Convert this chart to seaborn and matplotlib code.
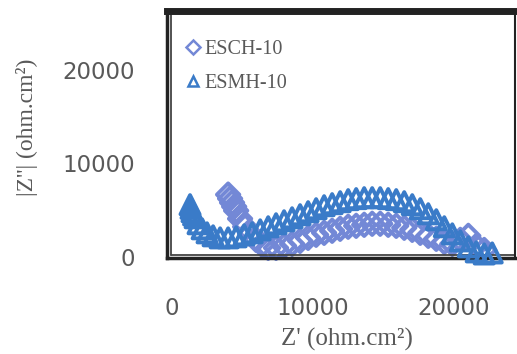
import matplotlib
matplotlib.use('Agg')
import matplotlib.pyplot as plt
import seaborn as sns
import pandas as pd
from matplotlib.lines import Line2D

# Nyquist data (ohm.cm2)
esmh_zre = [1280, 1350, 1420, 1530, 1640, 1850, 2140, 2490, 2920, 3420, 3990, 4560,
            5130, 5700, 6270, 6840, 7400, 7970, 8540, 9110, 9680, 10250, 10820,
            11390, 11960, 12530, 13100, 13670, 14240, 14810, 15380, 15950, 16520,
            17090, 17660, 18230, 18800, 19370, 19940, 20510, 21080, 21640, 22210,
            22780]
esmh_zim = [5590, 5200, 4840, 4500, 4190, 3550, 3010, 2580, 2260, 2040, 2040, 2150,
            2370, 2580, 2900, 3230, 3550, 3870, 4190, 4520, 4840, 5160, 5480,
            5700, 5910, 6130, 6240, 6340, 6340, 6340, 6240, 6130, 5910,
            5590, 5160, 4620, 3980, 3230, 2470, 1720, 1080, 540, 320,
            430]

esch_zre = [3990, 4130, 4270, 4420, 4560, 4840, 5200, 5550, 5980, 6410, 6840, 7400,
            7970, 8540, 9110, 9680, 10250, 10820, 11390, 11960, 12530, 13100,
            13670, 14240, 14810, 15380, 15950, 16520, 17090, 17660, 18230, 18800,
            19370, 19940, 20510, 21080, 21640, 22210]
esch_zim = [6670, 6240, 5810, 5380, 4950, 4090, 3230, 2470, 1830, 1290, 970, 970,
            1180, 1400, 1720, 2040, 2370, 2580, 2800, 3010, 3230, 3330,
            3440, 3550, 3550, 3440, 3330, 3120, 2900, 2580, 2260, 1940,
            1610, 1400, 1830, 2260, 1180, 750]

series = ['ESCH-10', 'ESMH-10']
x_ticks = [0, 10000, 20000]
y_ticks = [0, 10000, 20000]

df = pd.DataFrame({
    'zre': esch_zre + esmh_zre,
    'zim': esch_zim + esmh_zim,
    'sample': ['ESCH-10'] * len(esch_zre) + ['ESMH-10'] * len(esmh_zre),
})

colors = {'ESCH-10': '#7388d6', 'ESMH-10': '#3a7bc8'}
markers = {'ESCH-10': 'D', 'ESMH-10': '^'}
sizes = {'ESCH-10': 130, 'ESMH-10': 190}

sns.set_style('white')

fig = plt.figure(figsize=(5.17, 3.54), dpi=100)
ax = fig.add_axes([0.3230, 0.2712, 0.6731, 0.6977])

for name in series:
    sub = df[df['sample'] == name]
    sns.scatterplot(data=sub, x='zre', y='zim', ax=ax, color=colors[name],
                    facecolor='none', edgecolor=colors[name], marker=markers[name],
                    s=sizes[name], linewidth=2.8, clip_on=False,
                    zorder=3 if name == 'ESMH-10' else 2)

ax.set_xlim(-360, 24400)
ax.set_ylim(-110, 26300)
ax.set_xticks(x_ticks)
ax.set_yticks(y_ticks)
ax.tick_params(length=0, labelsize=16.5, labelcolor='#595959')
ax.tick_params(axis='x', pad=28)
ax.tick_params(axis='y', pad=23)

ax.set_xlabel("Z' (ohm.cm²)", fontsize=18, color='#595959', family='Liberation Serif')
ax.set_ylabel("|Z''| (ohm.cm²)", fontsize=17, color='#595959', family='Liberation Serif')
ax.xaxis.set_label_coords(0.517, -0.285)
ax.yaxis.set_label_coords(-0.371, 0.53)

# frame: thick top, double lines on left/bottom
for side, lw in [('top', 5), ('left', 2.5), ('bottom', 2.5), ('right', 1.5)]:
    ax.spines[side].set_visible(True)
    ax.spines[side].set_linewidth(lw)
    ax.spines[side].set_color('#222222')
ax.add_line(Line2D([0.0115, 0.0115], [0.012, 1], transform=ax.transAxes, color='#444444', lw=1.3))
ax.add_line(Line2D([0.0115, 1], [0.012, 0.012], transform=ax.transAxes, color='#444444', lw=1.3))

handles = [Line2D([], [], linestyle='none', marker=markers[n], markersize=7,
                  markerfacecolor='none', markeredgecolor=colors[n], markeredgewidth=1.8)
           for n in series]
leg = ax.legend(handles, series, loc='upper left', bbox_to_anchor=(0.035, 0.915),
                frameon=False, handlelength=0.6, handletextpad=0.25, labelspacing=0.75,
                borderaxespad=0, prop={'family': 'Liberation Serif', 'size': 14.5})
for t in leg.get_texts():
    t.set_color('#595959')

fig.savefig('out.png', dpi=100, facecolor='white')
